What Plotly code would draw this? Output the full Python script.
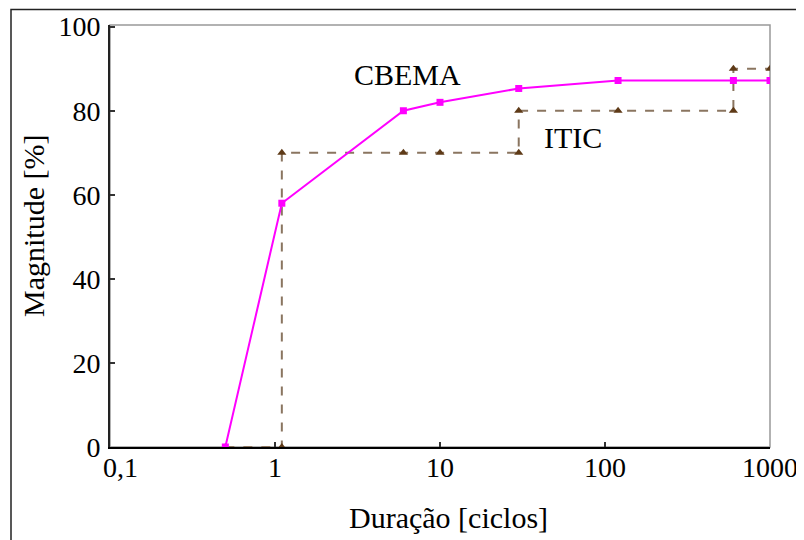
import plotly.graph_objects as go

# Data
cbema_x = [0.5, 1.1, 6, 10, 30, 120, 600, 1000]
cbema_y = [0, 58, 80, 82, 85.3, 87.2, 87.2, 87.2]
itic_x = [0.5, 1.1, 1.1, 6, 10, 30, 30, 120, 600, 600, 1000]
itic_y = [0, 0, 70, 70, 70, 70, 80, 80, 80, 90, 90]
x_tickvals = [0.1, 1, 10, 100, 1000]
x_ticktext = ["\u00a0\u00a0\u00a00,1", "1", "10", "100", "1000"]
y_tickvals = [0, 20, 40, 60, 80, 100]

FONT = "Liberation Serif"
OFF = 8  # page body margin
W, H = 804, 540
# desired screen positions of plot area
SX0, SX1, SY0, SY1 = 110, 770, 25, 447
L = SX0 - OFF
T = SY0 - OFF
R = W - (SX1 - OFF)
B = H - (SY1 - OFF)
PW, PH = SX1 - SX0, SY1 - SY0


def px(xs):
    return (xs - SX0) / PW


def py(ys):
    return (SY1 - ys) / PH


fig = go.Figure()
fig.add_trace(go.Scatter(
    x=itic_x, y=itic_y, mode="lines+markers", name="ITIC",
    line=dict(color="#8a7560", width=2, dash="dash"),
    marker=dict(symbol="triangle-up", size=8, color="#5e3a17"),
))
fig.add_trace(go.Scatter(
    x=cbema_x, y=cbema_y, mode="lines+markers", name="CBEMA",
    line=dict(color="#ff00ff", width=2),
    marker=dict(symbol="square", size=7, color="#ff00ff"),
))

fig.update_layout(
    width=W, height=H,
    margin=dict(l=L, r=R, t=T, b=B),
    paper_bgcolor="white", plot_bgcolor="white",
    showlegend=False,
    font=dict(family=FONT, size=28, color="black"),
    xaxis=dict(
        type="log", range=[-1, 3], automargin=False,
        tickvals=x_tickvals, ticktext=x_ticktext,
        ticks="inside", ticklen=5, tickwidth=1.5, tickcolor="#333",
        ticklabelstandoff=-6,
        showline=True, linecolor="black", linewidth=2,
        showgrid=False, zeroline=False,
        tickfont=dict(family=FONT, size=28),
    ),
    yaxis=dict(
        range=[0, 100.4], automargin=False,
        tickvals=y_tickvals,
        ticks="inside", ticklen=5, tickwidth=1.5, tickcolor="#333",
        ticklabelstandoff=2,
        showline=True, linecolor="#222", linewidth=2,
        showgrid=False, zeroline=False,
        tickfont=dict(family=FONT, size=28),
    ),
)

fig.add_annotation(x=px(448), y=py(517), xref="paper", yref="paper",
                   text="Duração [ciclos]", showarrow=False,
                   font=dict(family=FONT, size=30), xanchor="center", yanchor="middle")
fig.add_annotation(x=px(33), y=py(226), xref="paper", yref="paper",
                   text="Magnitude [%]", showarrow=False, textangle=-90,
                   font=dict(family=FONT, size=30), xanchor="center", yanchor="middle")
fig.add_annotation(x=px(407), y=py(74), xref="paper", yref="paper",
                   text="CBEMA", showarrow=False, font=dict(family=FONT, size=30),
                   xanchor="center", yanchor="middle")
fig.add_annotation(x=px(573), y=py(137), xref="paper", yref="paper",
                   text="ITIC", showarrow=False, font=dict(family=FONT, size=30),
                   xanchor="center", yanchor="middle")

# gray top/right plot border
fig.add_shape(type="rect", xref="paper", yref="paper", x0=0, y0=0, x1=1, y1=1,
              line=dict(color="#999", width=1.5), layer="below")
# outer figure frame
fig.add_shape(type="rect", xref="paper", yref="paper",
              x0=px(11), y0=-0.5, x1=1.2, y1=py(9.5),
              line=dict(color="#222", width=1.5), layer="below")

fig.write_html("out.html")
